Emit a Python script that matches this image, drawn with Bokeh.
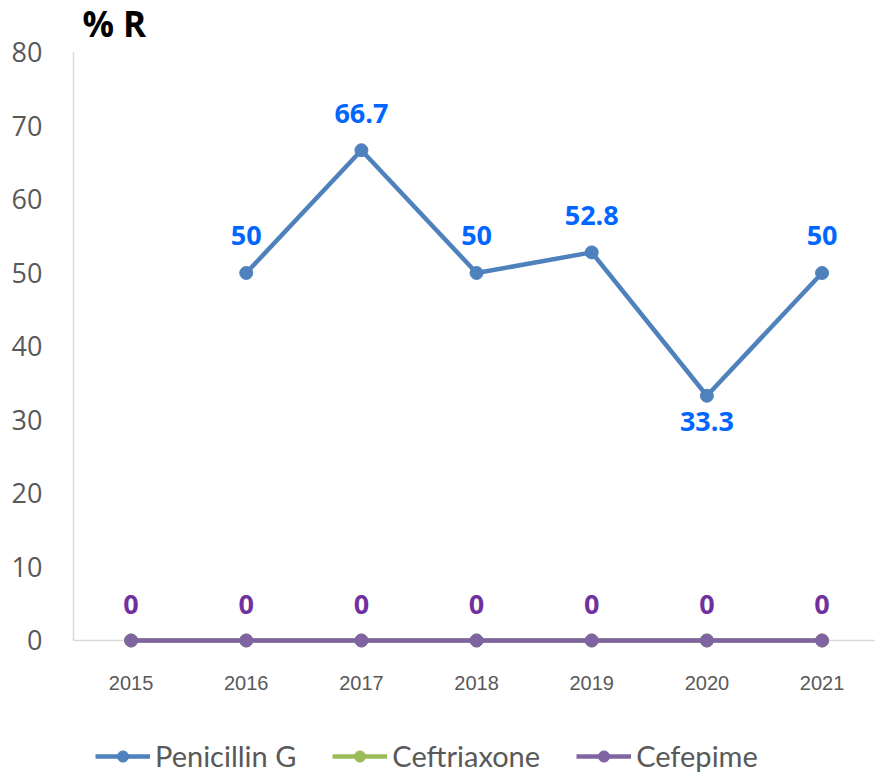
from bokeh.plotting import figure
from bokeh.layouts import column
from bokeh.models import Legend, LegendItem, ColumnDataSource, FixedTicker, LabelSet, Span, Label
from bokeh.core.properties import value
from bokeh.embed import file_html
from bokeh.resources import INLINE

years = ["2015", "2016", "2017", "2018", "2019", "2020", "2021"]
penicillin_years = ["2016", "2017", "2018", "2019", "2020", "2021"]
penicillin = [50, 66.7, 50, 52.8, 33.3, 50]
ceftriaxone = [0, 0, 0, 0, 0, 0, 0]
cefepime = [0, 0, 0, 0, 0, 0, 0]
y_ticks = [0, 10, 20, 30, 40, 50, 60, 70, 80]
series_names = ["Penicillin G", "Ceftriaxone", "Cefepime"]

BLUE = "#4f81bd"
GREEN = "#9bbb59"
PURPLE = "#8064a2"

# main chart: frame spans from the top of the page so the title can sit inside it
p = figure(width=875, height=730, output_backend="svg", toolbar_location=None,
           x_range=(2014.5, 2021.464), y_range=(-1.09, 87.07),
           min_border_left=73, min_border_right=0, min_border_top=0,
           min_border_bottom=82)
p.outline_line_color = None
p.xgrid.visible = False
p.ygrid.visible = False

xs_all = [int(y) for y in years]
xs_pen = [int(y) for y in penicillin_years]

src_pen = ColumnDataSource(dict(x=xs_pen, y=penicillin,
                                t=[("%g" % v) for v in penicillin],
                                off=[-26 if v < 40 else 37 for v in penicillin]))
src_cef = ColumnDataSource(dict(x=xs_all, y=ceftriaxone, t=["0"] * len(xs_all)))
src_cep = ColumnDataSource(dict(x=xs_all, y=cefepime, t=["0"] * len(xs_all)))
sources = [src_pen, src_cef, src_cep]
colors = [BLUE, GREEN, PURPLE]

zero_line = Span(location=0, dimension="width", line_color="#d9d9d9", line_width=1.5)
zero_line.level = "underlay"
p.add_layout(zero_line)

for src, col in zip(sources, colors):
    p.line("x", "y", source=src, line_color=col, line_width=4.5)
    p.scatter("x", "y", source=src, size=13, fill_color=col, line_color=col)

lab_pen = LabelSet(x="x", y="y", text="t", source=src_pen, y_offset="off",
                   text_align="center", text_baseline="middle",
                   text_font=value("Open Sans"), text_font_size="27px",
                   text_font_style="bold", text_color="#0066ff")
lab_cep = LabelSet(x="x", y="y", text="t", source=src_cep, y_offset=36,
                   text_align="center", text_baseline="middle",
                   text_font=value("Open Sans"), text_font_size="27px",
                   text_font_style="bold", text_color="#7030a0")
p.add_layout(lab_pen)
p.add_layout(lab_cep)

title = Label(x=2014.5, y=83.9, x_offset=9, text="% R",
              text_font="Open Sans", text_font_size="35px", text_font_style="bold",
              text_color="#000000", text_align="left", text_baseline="middle")
p.add_layout(title)

p.xaxis.ticker = FixedTicker(ticks=xs_all)
p.xaxis.major_label_overrides = {int(y): y for y in years}
p.xaxis.axis_line_color = None
p.xaxis.major_tick_line_color = None
p.xaxis.minor_tick_line_color = None
p.xaxis.major_label_text_font = "Liberation Sans"
p.xaxis.major_label_text_font_size = "20px"
p.xaxis.major_label_text_color = "#595959"
p.xaxis.major_label_standoff = 21

p.yaxis.ticker = FixedTicker(ticks=y_ticks)
p.yaxis.bounds = (0, 80)
p.yaxis.axis_line_color = "#d9d9d9"
p.yaxis.axis_line_width = 1.5
p.yaxis.major_tick_line_color = None
p.yaxis.minor_tick_line_color = None
p.yaxis.major_label_text_font = "Open Sans"
p.yaxis.major_label_text_font_size = "27px"
p.yaxis.major_label_text_color = "#595959"
p.yaxis.major_label_standoff = 25

# legend strip below the chart (its series lie outside its view; only the legend shows)
lg = figure(width=875, height=44, output_backend="svg", toolbar_location=None,
            x_axis_type=None, y_axis_type=None, x_range=(0, 1), y_range=(0, 1),
            min_border_left=73, min_border_right=0, min_border_top=0, min_border_bottom=0)
lg.outline_line_color = None
lg.xgrid.visible = False
lg.ygrid.visible = False
items = []
for name, src, col in zip(series_names, sources, colors):
    r1 = lg.line("x", "y", source=src, line_color=col, line_width=4.5)
    r2 = lg.scatter("x", "y", source=src, size=13, fill_color=col, line_color=col)
    items.append(LegendItem(label=name, renderers=[r1, r2]))

legend = Legend(items=items, orientation="horizontal", location=(22, 1))
legend.label_text_font = "Lato"
legend.label_text_font_size = "29px"
legend.label_text_color = "#595959"
legend.glyph_width = 55
legend.glyph_height = 28
legend.label_height = 26
legend.label_standoff = 5
legend.spacing = 36
legend.padding = 0
legend.margin = 0
legend.border_line_color = None
legend.background_fill_alpha = 0
lg.add_layout(legend, "center")

open("out.html", "w").write(file_html(column(p, lg, spacing=0), INLINE))
